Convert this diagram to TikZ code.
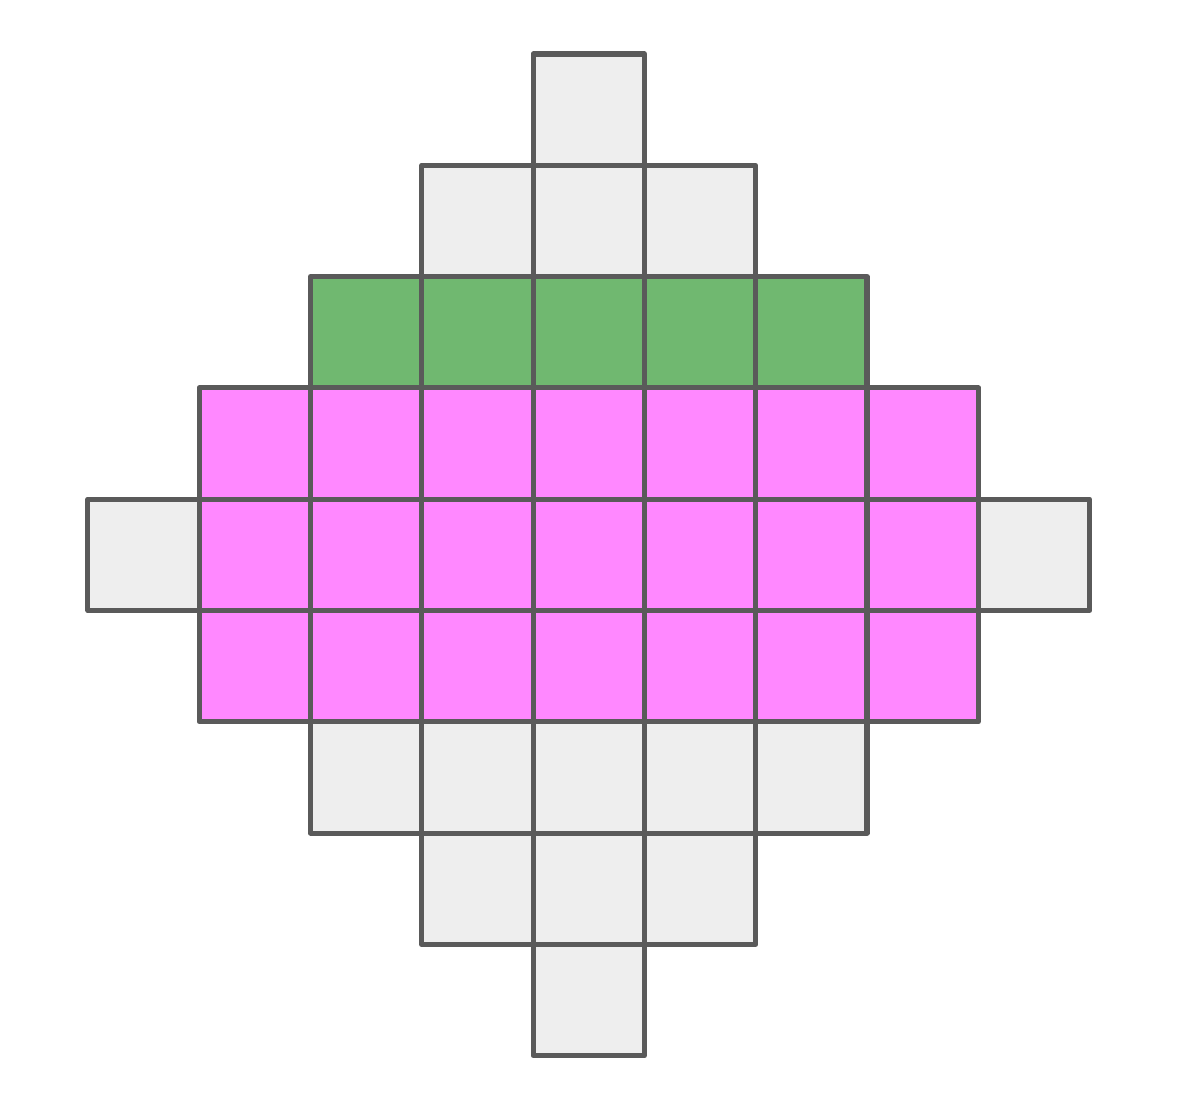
\documentclass[tikz,border=0pt]{standalone}
\definecolor{cellline}{HTML}{5A5A5A}
\definecolor{cellgray}{HTML}{EEEEEE}
\definecolor{cellgreen}{HTML}{70B870}
\definecolor{cellpink}{HTML}{FF88FF}
\tikzset{
    cell/.style={draw=cellline, line width=1.3pt, line join=round}
}
\begin{document}
\begin{tikzpicture}
    \useasboundingbox (-0.79,-0.488) rectangle (9.848,9.485);
    % Riga centrale: estremi grigi
    \draw[cell, fill=cellgray] (0,4) rectangle (1,5);
    \draw[cell, fill=cellgray] (8,4) rectangle (9,5);
    % Parte alta grigia
    \draw[cell, fill=cellgray] (4,8) rectangle (5,9);
    \foreach \c in {3,4,5} {
        \draw[cell, fill=cellgray] (\c,7) rectangle (\c+1,8);
    }
    % Riga verde
    \foreach \c in {2,...,6} {
        \draw[cell, fill=cellgreen] (\c,6) rectangle (\c+1,7);
    }
    % Blocco rosa
    \foreach \r in {3,4,5} {
        \foreach \c in {1,...,7} {
            \draw[cell, fill=cellpink] (\c,\r) rectangle (\c+1,\r+1);
        }
    }
    % Parte bassa grigia
    \foreach \c in {2,...,6} {
        \draw[cell, fill=cellgray] (\c,2) rectangle (\c+1,3);
    }
    \foreach \c in {3,4,5} {
        \draw[cell, fill=cellgray] (\c,1) rectangle (\c+1,2);
    }
    \draw[cell, fill=cellgray] (4,0) rectangle (5,1);
\end{tikzpicture}
\end{document}
